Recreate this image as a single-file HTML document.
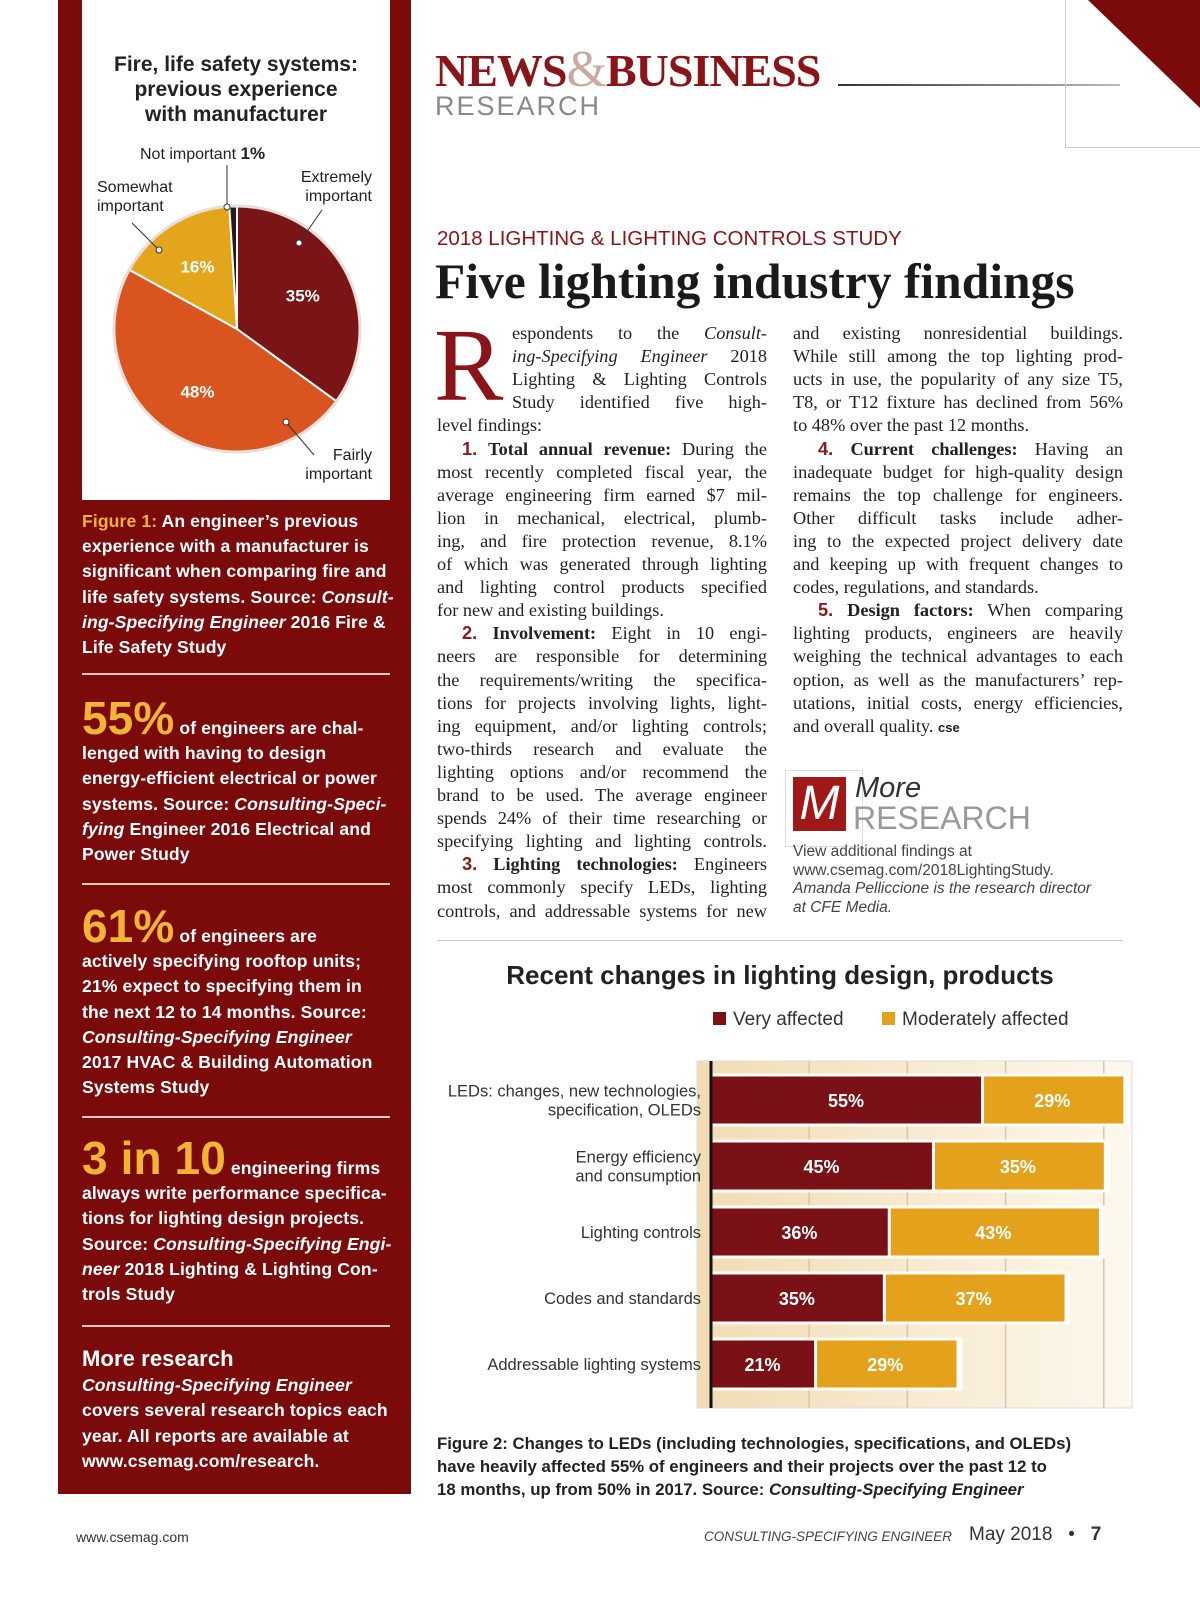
<!DOCTYPE html>
<html><head><meta charset="utf-8">
<style>
*{margin:0;padding:0;box-sizing:border-box}
body{width:1200px;height:1600px;background:#fff;position:relative;overflow:hidden;font-family:"Liberation Sans",sans-serif}
.abs{position:absolute;white-space:nowrap}
.sb{position:absolute;left:82px;color:#fff;font-size:17.6px;line-height:22px;white-space:nowrap;font-weight:bold;letter-spacing:0.1px}
.sb i{font-style:italic}
.big{color:#f2b533;font-size:46px;font-weight:bold;line-height:46px}
.gold{color:#f2b533}
.hr{position:absolute;left:82px;width:308px;height:2px;background:#e9c9c0}
.bl{position:absolute;font-family:"Liberation Serif",serif;font-size:18.3px;line-height:22px;color:#222;text-align:justify;text-align-last:justify;white-space:nowrap}
.bl.last{text-align-last:left}
.bl b{color:#222}
.bl .n{color:#8b1a1a;font-family:"Liberation Sans",sans-serif;font-weight:bold}
</style></head><body>

<!-- Sidebar -->
<div style="position:absolute;left:58px;top:0;width:353px;height:1494px;background:#7b0a0a"></div>
<div style="position:absolute;left:82px;top:0;width:308px;height:500px;background:#fff"></div>
<div class="abs" style="left:82px;top:52px;width:308px;text-align:center;font-weight:bold;font-size:21px;line-height:25px;color:#222">Fire, life safety systems:<br>previous experience<br>with manufacturer</div>
<svg id="pie" style="position:absolute;left:82px;top:0" width="308" height="500"></svg>

<div class="sb" style="top:509px;line-height:25.2px"><span class="gold">Figure 1:</span> An engineer’s previous<br>experience with a manufacturer is<br>significant when comparing fire and<br>life safety systems. Source: <i>Consult-<br>ing-Specifying Engineer</i> 2016 Fire &amp;<br>Life Safety Study</div>
<div class="hr" style="top:673px"></div>
<div class="sb" style="top:695px;line-height:25.2px"><span class="big">55%</span> of engineers are chal-<br>lenged with having to design<br>energy-efficient electrical or power<br>systems. Source: <i>Consulting-Speci-<br>fying</i> Engineer 2016 Electrical and<br>Power Study</div>
<div class="hr" style="top:883px"></div>
<div class="sb" style="top:903px;line-height:25.2px"><span class="big">61%</span> of engineers are<br>actively specifying rooftop units;<br>21% expect to specifying them in<br>the next 12 to 14 months. Source:<br><i>Consulting-Specifying Engineer</i><br>2017 HVAC &amp; Building Automation<br>Systems Study</div>
<div class="hr" style="top:1116px"></div>
<div class="sb" style="top:1135px;line-height:25.2px"><span class="big">3 in 10</span> engineering firms<br>always write performance specifica-<br>tions for lighting design projects.<br>Source: <i>Consulting-Specifying Engi-<br>neer</i> 2018 Lighting &amp; Lighting Con-<br>trols Study</div>
<div class="hr" style="top:1325px"></div>
<div class="sb" style="top:1346px;line-height:25.2px"><span style="font-size:22px">More research</span><br><i>Consulting-Specifying Engineer</i><br>covers several research topics each<br>year. All reports are available at<br>www.csemag.com/research.</div>

<!-- Header -->
<div class="abs" style="left:435px;top:40px;font-family:'Liberation Serif',serif;font-weight:bold;font-size:46px;color:#8b1418;letter-spacing:-1px">NEWS<span style="color:#c9a9a0;font-weight:normal;font-size:52px">&amp;</span>BUSINESS</div>
<div style="position:absolute;left:838px;top:84px;width:282px;height:2px;background:linear-gradient(90deg,#333,#bbb)"></div>
<div class="abs" style="left:435px;top:91px;font-size:27px;color:#888;letter-spacing:2px">RESEARCH</div>
<div style="position:absolute;left:1065px;top:0;width:140px;height:148px;border-left:1px solid #ccc;border-bottom:1px solid #ccc"></div>
<svg style="position:absolute;left:1088px;top:0" width="112" height="110"><polygon points="0,0 112,0 112,108" fill="#7b0a0a"/></svg>

<div class="abs" style="left:437px;top:227px;font-size:20.5px;color:#8b1418">2018 LIGHTING &amp; LIGHTING CONTROLS STUDY</div>
<div class="abs" style="left:435px;top:253px;font-family:'Liberation Serif',serif;font-weight:bold;font-size:49.5px;color:#1a1a1a">Five lighting industry findings</div>

<div class="abs" style="left:434px;top:314px;font-family:'Liberation Serif',serif;font-size:104px;line-height:104px;color:#8b1418">R</div>
<div id="colL"></div><div id="colR"></div>

<!-- More research logo -->
<div style="position:absolute;left:785px;top:770px;width:78px;height:77px;border:1px solid #ddd"></div>
<div class="abs" style="left:793px;top:777px;width:53px;height:54px;background:#a01818;color:#fff;font-size:48px;font-style:italic;text-align:center;line-height:54px">M</div>
<div class="abs" style="left:855px;top:773px;font-size:29px;font-style:italic;color:#333;line-height:30px">More</div>
<div class="abs" style="left:853px;top:801px;font-size:32px;color:#999;line-height:34px">RESEARCH</div>
<div class="abs" style="left:793px;top:843px;font-size:15.5px;color:#444;line-height:18.5px">View additional findings at<br>www.csemag.com/2018LightingStudy.<br><i>Amanda Pelliccione is the research director<br>at CFE Media.</i></div>

<div style="position:absolute;left:437px;top:940px;width:686px;height:1px;background:#ccc"></div>

<!-- Chart -->
<div class="abs" style="left:437px;top:960px;width:686px;text-align:center;font-size:26px;font-weight:bold;color:#222">Recent changes in lighting design, products</div>
<div class="abs" style="left:713px;top:1009px;font-size:19px;color:#333"><span style="display:inline-block;width:13px;height:13px;background:#7a1116;margin-right:7px"></span>Very affected</div>
<div class="abs" style="left:882px;top:1009px;font-size:19px;color:#333"><span style="display:inline-block;width:13px;height:13px;background:#e4a21c;margin-right:7px"></span>Moderately affected</div>
<svg id="chart" style="position:absolute;left:0;top:0" width="1200" height="1600"></svg>

<div class="abs" style="left:437px;top:1432px;font-size:16.8px;font-weight:bold;line-height:23px;color:#222">Figure 2: Changes to LEDs (including technologies, specifications, and OLEDs)<br>have heavily affected 55% of engineers and their projects over the past 12 to<br>18 months, up from 50% in 2017. Source: <i>Consulting-Specifying Engineer</i></div>

<div class="abs" style="left:76px;top:1529px;font-size:14px;color:#333">www.csemag.com</div>
<div class="abs" style="left:704px;top:1529px;font-size:13.5px;font-style:italic;color:#444">CONSULTING-SPECIFYING ENGINEER</div>
<div class="abs" style="left:969px;top:1524px;font-size:19px;color:#333">May 2018 &nbsp;&nbsp;•&nbsp;&nbsp; <b>7</b></div>

<script>
const NS='http://www.w3.org/2000/svg';
function mk(p,t,a){const e=document.createElementNS(NS,t);for(const k in a)e.setAttribute(k,a[k]);p.appendChild(e);return e;}

// ---- Pie data ----
const pieLabels=['Extremely important','Fairly important','Somewhat important','Not important'];
const pieValues=[35,48,16,1];
const pieColors=['#7a1417','#d9541e','#e3a51c','#2a1a1a'];
const pie=document.getElementById('pie');
const cx=155,cy=329,R=123;
let acc=0;
pieValues.forEach((v,i)=>{
  const tot=pieValues.reduce((a,b)=>a+b,0);
  const a0=acc/tot*2*Math.PI, a1=(acc+v)/tot*2*Math.PI; acc+=v;
  const x0=cx+R*Math.sin(a0),y0=cy-R*Math.cos(a0),x1=cx+R*Math.sin(a1),y1=cy-R*Math.cos(a1);
  const p=mk(pie,'path',{d:`M${cx},${cy}L${x0},${y0}A${R},${R} 0 ${a1-a0>Math.PI?1:0} 1 ${x1},${y1}Z`,fill:pieColors[i],stroke:'#fff','stroke-width':2});
  
  
  if(v>=5){const am=(a0+a1)/2;
    const t=mk(pie,'text',{x:cx+0.6*R*Math.sin(am),y:cy-0.6*R*Math.cos(am)+6,'text-anchor':'middle','font-size':17,'font-weight':'bold',fill:'#fff','font-family':'Liberation Sans'});
    t.textContent=v+'%';
    
    }
});
mk(pie,'circle',{cx:cx,cy:cy,r:R,fill:'none',stroke:'#e8e0d8','stroke-width':3});
// callouts
[[145,207,145,165],[217,243,240,210],[77,250,50,223],[204,422,232,455]].forEach(l=>{mk(pie,'line',{x1:l[0],y1:l[1],x2:l[2],y2:l[3],stroke:'#333','stroke-width':1});mk(pie,'circle',{cx:l[0],cy:l[1],r:3,fill:'#fff',stroke:'#333'});});
const anns=[['Not important ',58,159,'start','1%'],['Somewhat',15,192,'start',''],['important',15,211,'start',''],['Extremely',290,182,'end',''],['important',290,201,'end',''],['Fairly',290,460,'end',''],['important',290,479,'end','']];
anns.forEach(a=>{const t=mk(pie,'text',{x:a[1],y:a[2],'text-anchor':a[3],'font-size':16,fill:'#222','font-family':'Liberation Sans'});t.textContent=a[0];
 if(a[4]){const s=mk(t,'tspan',{'font-weight':'bold','font-size':17});s.textContent=a[4];}
 });

// ---- Body text ----
const L=[
[1,'espondents to the <i>Consult-</i>',0],[1,'<i>ing-Specifying Engineer</i> 2018',0],[1,'Lighting &amp; Lighting Controls',0],[1,'Study identified five high-',0],[0,'level findings:',1],
[2,'<span class=n>1.</span> <b>Total annual revenue:</b> During the',0],[0,'most recently completed fiscal year, the',0],[0,'average engineering firm earned $7 mil-',0],[0,'lion in mechanical, electrical, plumb-',0],[0,'ing, and fire protection revenue, 8.1%',0],[0,'of which was generated through lighting',0],[0,'and lighting control products specified',0],[0,'for new and existing buildings.',1],
[2,'<span class=n>2.</span> <b>Involvement:</b> Eight in 10 engi-',0],[0,'neers are responsible for determining',0],[0,'the requirements/writing the specifica-',0],[0,'tions for projects involving lights, light-',0],[0,'ing equipment, and/or lighting controls;',0],[0,'two-thirds research and evaluate the',0],[0,'lighting options and/or recommend the',0],[0,'brand to be used. The average engineer',0],[0,'spends 24% of their time researching or',0],[0,'specifying lighting and lighting controls.',0],
[2,'<span class=n>3.</span> <b>Lighting technologies:</b> Engineers',0],[0,'most commonly specify LEDs, lighting',0],[0,'controls, and addressable systems for new',0]];
const Rr=[
[0,'and existing nonresidential buildings.',0],[0,'While still among the top lighting prod-',0],[0,'ucts in use, the popularity of any size T5,',0],[0,'T8, or T12 fixture has declined from 56%',0],[0,'to 48% over the past 12 months.',1],
[2,'<span class=n>4.</span> <b>Current challenges:</b> Having an',0],[0,'inadequate budget for high-quality design',0],[0,'remains the top challenge for engineers.',0],[0,'Other difficult tasks include adher-',0],[0,'ing to the expected project delivery date',0],[0,'and keeping up with frequent changes to',0],[0,'codes, regulations, and standards.',1],
[2,'<span class=n>5.</span> <b>Design factors:</b> When comparing',0],[0,'lighting products, engineers are heavily',0],[0,'weighing the technical advantages to each',0],[0,'option, as well as the manufacturers’ rep-',0],[0,'utations, initial costs, energy efficiencies,',0],[0,'and overall quality. <b style="font-family:Liberation Sans;font-size:13px">cse</b>',1]];
function col(lines,x0,id){const c=document.getElementById(id);
 lines.forEach((l,i)=>{const d=document.createElement('div');d.className='bl'+(l[2]?' last':'');
  const ind=l[0]==1?75:(l[0]==2?25:0);
  d.style.left=(x0+ind)+'px';d.style.width=(330-ind)+'px';d.style.top=(322+i*23.1)+'px';d.innerHTML=l[1];
  
  
  c.appendChild(d);});}
col(L,437,'colL');col(Rr,793,'colR');

// ---- Bar chart data ----
const categories=['LEDs: changes, new technologies,|specification, OLEDs','Energy efficiency|and consumption','Lighting controls','Codes and standards','Addressable lighting systems'];
const veryAffected=[55,45,36,35,21];
const moderatelyAffected=[29,35,43,37,29];
const gridTicks=[20,40,60,80];
const ch=document.getElementById('chart');
const X0=711,PX=4.91,plotTop=1061,plotBot=1408,Y0=1100,STEP=66,BH=47;
const xs=v=>X0+v*PX;
const grad=mk(mk(ch,'defs',{}),'linearGradient',{id:'bg',x1:0,x2:1,y1:0,y2:0});
mk(grad,'stop',{offset:0,'stop-color':'#f1dcb4'});mk(grad,'stop',{offset:1,'stop-color':'#fdf8ee'});
mk(ch,'rect',{x:697,y:plotTop,width:435,height:plotBot-plotTop,fill:'url(#bg)',stroke:'#ddd'});
gridTicks.forEach(t=>{const g=mk(ch,'line',{x1:xs(t),x2:xs(t),y1:plotTop,y2:plotBot,stroke:'#d8c7a6','stroke-width':1.5});
 });
categories.forEach((c,i)=>{const yc=Y0+i*STEP;
 mk(ch,'rect',{x:X0,y:yc-BH/2-3,width:(veryAffected[i]+moderatelyAffected[i])*PX+6,height:BH+6,fill:'#fff',opacity:0.9});
 const b1=mk(ch,'rect',{x:X0,y:yc-BH/2,width:veryAffected[i]*PX,height:BH,fill:'#7a1116'});
 
 const b2=mk(ch,'rect',{x:xs(veryAffected[i])+3,y:yc-BH/2,width:moderatelyAffected[i]*PX-3,height:BH,fill:'#e4a21c'});
 
 [[veryAffected[i],X0+veryAffected[i]*PX/2],[moderatelyAffected[i],xs(veryAffected[i]+moderatelyAffected[i]/2)]].forEach(p=>{
  const t=mk(ch,'text',{x:p[1],y:yc+7,'text-anchor':'middle','font-size':18,'font-weight':'bold',fill:'#fff','font-family':'Liberation Sans'});t.textContent=p[0]+'%';
  });
 const parts=c.split('|');
 parts.forEach((s,j)=>{const t=mk(ch,'text',{x:701,y:yc+6+(j-(parts.length-1)/2)*19,'text-anchor':'end','font-size':16.5,fill:'#333','font-family':'Liberation Sans'});t.textContent=s;
  });
});
mk(ch,'line',{x1:X0,x2:X0,y1:plotTop,y2:plotBot,stroke:'#111','stroke-width':3});
</script>
</body></html>
